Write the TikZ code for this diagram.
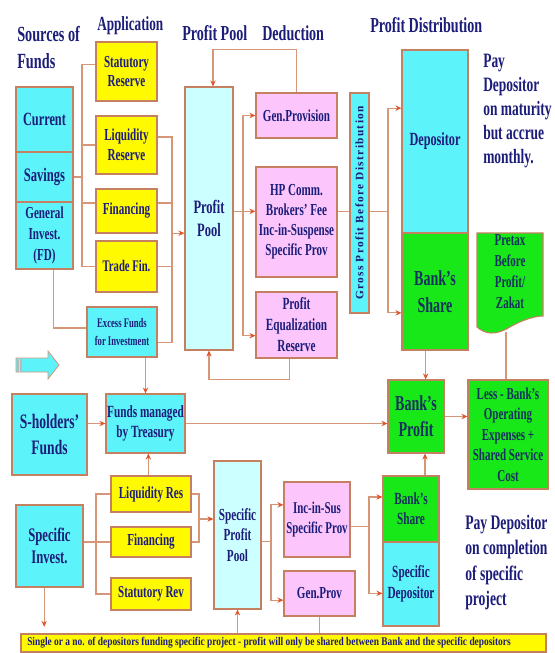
\documentclass[tikz,border=0pt]{standalone}
\usepackage{fontspec}
\setmainfont{Liberation Serif}[FakeStretch=0.66]
\newfontfamily\grossfont{Liberation Serif}[LetterSpace=12]
\newfontfamily\barfont{Liberation Serif}[FakeStretch=0.8]
\usetikzlibrary{arrows.meta,calc}
\definecolor{cy}{RGB}{92,244,250}
\definecolor{lcy}{RGB}{204,255,255}
\definecolor{yl}{RGB}{255,250,0}
\definecolor{pk}{RGB}{252,198,252}
\definecolor{gr}{RGB}{24,232,24}
\definecolor{bd}{RGB}{196,128,96}
\definecolor{ln}{RGB}{214,150,120}
\definecolor{tip}{RGB}{226,84,44}
\definecolor{nv}{RGB}{28,28,122}
\definecolor{gnv}{RGB}{22,48,96}
\begin{document}
\begin{tikzpicture}[x=0.75pt,y=-0.75pt,
 box/.style={draw=bd, line width=0.8pt, inner sep=0pt, align=center, text=nv},
 wh/.style 2 args={minimum width=#1*0.75pt, minimum height=#2*0.75pt},
 fs/.style 2 args={font=\bfseries\fontsize{#1}{#2}\selectfont},
 conn/.style={draw=ln, line width=0.8pt},
 arr/.style={conn, -{Stealth[length=4.5pt,width=4pt,color=tip]}},
 ttl/.style={inner sep=0pt, align=left, text=nv, anchor=north west}]
\useasboundingbox (0,0) rectangle (555,653);
\fill[white] (0,0) rectangle (555,653);

% titles
\node[ttl,fs={16.2}{20}] (t1) at (17,26) {Sources of\\Funds};
\node[ttl,fs={15}{17}] (t2) at (97,16) {Application};
\node[ttl,fs={16}{17}] (t3) at (182,25) {Profit Pool};
\node[ttl,fs={16}{17}] (t4) at (262,25) {Deduction};
\node[ttl,fs={16}{17}] (t5) at (370,17) {Profit Distribution};
\node[ttl,fs={15.3}{18}] (t6) at (483,54) {Pay\\Depositor\\on maturity\\but accrue\\monthly.};
\node[ttl,fs={15.5}{19}] (t7) at (465,515) {Pay Depositor\\on completion\\of specific\\project};

% sources
\node[box,fill=cy,wh={57}{65},fs={14}{16}] (cur) at (44.5,119.5) {Current};
\node[box,fill=cy,wh={57}{50},fs={14.3}{16}] (sav) at (44.5,177) {Savings};
\node[box,fill=cy,wh={57}{67},fs={12.6}{15.5}] (gen) at (44.5,235.5) {General\\Invest.\\(FD)};
% application
\node[box,fill=yl,wh={61}{59},fs={12.6}{14.5}] (stat) at (126.5,71.5) {Statutory\\Reserve};
\node[box,fill=yl,wh={61}{58},fs={12.6}{15}] (liq) at (126.5,145) {Liquidity\\Reserve};
\node[box,fill=yl,wh={61}{44},fs={12.6}{14}] (fin) at (126.5,211) {Financing};
\node[box,fill=yl,wh={61}{51},fs={12.1}{14}] (trade) at (126.5,266.5) {Trade Fin.};
\node[box,fill=cy,wh={70}{50},fs={9.8}{14}] (excess) at (122,332) {Excess Funds\\for Investment};
% pool and deductions
\node[box,fill=lcy,wh={48}{263},fs={14.2}{17.5}] (pool) at (209,218.5) {Profit\\Pool};
\node[box,fill=pk,wh={81}{45},fs={12.6}{14}] (genprov) at (296.5,115.5) {Gen.Provision};
\node[box,fill=pk,wh={81}{110},fs={12.6}{15}] (hp) at (296.5,222) {HP Comm.\\Brokers' Fee\\Inc-in-Suspense\\Specific Prov};
\node[box,fill=pk,wh={81}{66},fs={12.8}{15.7}] (peq) at (296.5,325) {Profit\\Equalization\\Reserve};
\node[box,fill=cy,wh={19}{220}] (gross) at (359.5,203) {};
\node[rotate=90,inner sep=0pt,text=nv,font=\grossfont\bfseries\fontsize{8.5}{9}\selectfont] (grosst) at (gross.center) {Gross Profit Before Distribution};
% distribution
\node[box,fill=cy,wh={66}{183},fs={13.9}{16}] (dep) at (435,141.5) {Depositor};
\node[box,fill=gr,wh={66}{117},fs={16}{20},text=gnv] (bshare) at (435,291.5) {Bank's\\Share};
\draw[draw=bd,fill=gr,line width=0.8pt] (477,233) -- (543,233) -- (543,316) .. controls (535,316) and (522,320) .. (510,327) .. controls (495,336) and (485,334) .. (477,327) -- cycle;
\node[inner sep=0pt,align=center,text=gnv,fs={12.5}{15.7}] (pretax) at (510,272) {Pretax\\Before\\Profit/\\Zakat};
\coordinate (ptb) at (506,332);
\node[box,fill=gr,wh={56}{73},fs={16}{19.5},text=gnv] (bprofit) at (416,416.5) {Bank's\\Profit};
\node[box,fill=gr,wh={80}{109},fs={12.5}{15.3},text=gnv] (less) at (508,434.5) {Less - Bank's\\Operating\\Expenses +\\Shared Service\\Cost};
% lower part
\node[box,fill=cy,wh={75}{81},fs={15.4}{19}] (shold) at (49.5,434.5) {S-holders'\\Funds};
\node[box,fill=cy,wh={79}{59},fs={12.8}{15}] (treas) at (145.5,423.5) {Funds managed\\by Treasury};
\node[box,fill=yl,wh={80}{36},fs={12.6}{14}] (lres) at (151,494) {Liquidity Res};
\node[box,fill=yl,wh={80}{30},fs={12.6}{14}] (lfin) at (151,542) {Financing};
\node[box,fill=yl,wh={80}{32},fs={12.5}{14}] (srev) at (151,594) {Statutory Rev};
\node[box,fill=cy,wh={67}{82},fs={14.4}{16.5}] (sinv) at (49.5,546) {Specific\\Invest.};
\node[box,fill=lcy,wh={47}{148},fs={12.7}{15.4}] (spool) at (237.5,535) {Specific\\Profit\\Pool};
\node[box,fill=pk,wh={66}{75},fs={12.4}{15}] (incsus) at (317,519.5) {Inc-in-Sus\\Specific Prov};
\node[box,fill=pk,wh={71}{45},fs={12.6}{14}] (gprov2) at (319.5,593.5) {Gen.Prov};
\node[box,fill=gr,wh={56}{66},fs={12.8}{15},text=gnv] (bshare2) at (411,509) {Bank's\\Share};
\node[box,fill=cy,wh={56}{84},fs={12.8}{16}] (sdep) at (411,584) {Specific\\Depositor};
\node[box,fill=yl,wh={525}{18}] (bar) at (283.5,643) {};
\node[inner sep=0pt,anchor=west,text=nv,font=\barfont\bfseries\fontsize{8.8}{10}\selectfont] (bartext) at (27,643) {Single or a no. of depositors funding specific project - profit will only be shared between Bank and the specific depositors};

% big arrow
\draw[draw=ln,fill=cy,line width=0.6pt] (16,358) -- (48,358) -- (48,351) -- (59,365) -- (48,379) -- (48,372) -- (16,372) -- cycle;
\fill[gray!55] (16.5,358.5) rectangle (22,371.5);
\draw[gray!30,line width=0.5pt] (19,358.5) -- (19,371.5);

% top-left buses
\coordinate (lb) at (82,0);
\coordinate (statw) at ([yshift=5.6pt]stat.west);
\coordinate (finw) at ([yshift=6pt]fin.west);
\draw[conn] (statw) -- (statw -| lb) -- (lb |- trade.west) -- (trade.west);
\draw[conn] (liq.west) -- (liq.west -| lb);
\draw[conn] (finw) -- (finw -| lb);
\draw[conn] (sav.east) -- (sav.east -| lb);

\coordinate (rb) at (172,0);
\coordinate (liqe) at ([yshift=6pt]liq.east);
\coordinate (fine) at ([yshift=6pt]fin.east);
\coordinate (exe) at ([yshift=-8pt]excess.east);
\draw[conn] (liqe) -- (liqe -| rb) -- (rb |- exe) -- (exe);
\draw[conn] (fine) -- (fine -| rb);
\draw[conn] (trade.east) -- (trade.east -| rb);
\coordinate (poolw) at ([yshift=-11pt]pool.west);
\draw[arr] (poolw -| rb) -- (poolw);

\coordinate (gens) at ([xshift=7pt]gen.south);
\coordinate (exw) at ([yshift=3pt]excess.west);
\draw[conn] (gens) |- (exw);
\draw[arr] (treas.north |- excess.south) -- (treas.north);

% profit pool loops
\coordinate (pooln) at ([xshift=3pt]pool.north);
\draw[arr] (genprov.north) -- ++(0,-43) -| (pooln);
\coordinate (db) at (243,0);
\coordinate (hpw) at ([yshift=8pt]hp.west);
\coordinate (peqw) at ([yshift=-8pt]peq.west);
\draw[conn] (hpw -| pool.east) -- (hpw -| db);
\draw[arr] (hpw -| db) -- (hpw);
\draw[arr] (hpw -| db) |- (genprov.west);
\draw[arr] (hpw -| db) |- (peqw);
\coordinate (peqs) at ([xshift=-5.6pt]peq.south);
\draw[arr] (peqs) -- ++(0,21) -| (pool.south);

% distribution
\coordinate (hpe) at ([yshift=8pt]hp.east);
\coordinate (dbus) at (388,0);
\coordinate (depw) at ([yshift=25pt]dep.west);
\coordinate (bsw) at ([yshift=-16pt]bshare.west);
\draw[conn] (hpe) -- (hpe -| gross.west);
\draw[conn] (hpe -| gross.east) -- (hpe -| dbus);
\draw[arr] (hpe -| dbus) |- (depw);
\draw[arr] (hpe -| dbus) |- (bsw);
\coordinate (bss) at ([xshift=-7pt]bshare.south);
\draw[arr] (bss) -- (bss |- bprofit.north);
\draw[conn] (ptb) -- (ptb |- less.north);
\draw[arr] (bprofit.east) -- (bprofit.east -| less.west);
\draw[arr] (treas.east) -- (treas.east -| bprofit.west);
\draw[arr] (treas.west -| shold.east) -- (treas.west);
\coordinate (lrn) at ([xshift=-2pt]lres.north);
\draw[arr] (lrn) -- (lrn |- treas.south);
\coordinate (bs2n) at ([xshift=10.5pt]bshare2.north);
\draw[arr] (bs2n) -- (bs2n |- bprofit.south);

% lower buses
\coordinate (lb2) at (96,0);
\draw[conn] (lres.west) -- (lres.west -| lb2) -- (lb2 |- srev.west) -- (srev.west);
\draw[conn] (lfin.west -| sinv.east) -- (lfin.west);
\coordinate (rb2) at (199,0);
\draw[conn] (lres.east) -- (lres.east -| rb2) -- (rb2 |- lfin.east) -- (lfin.east);
\coordinate (spw) at ([yshift=12pt]spool.west);
\draw[arr] (spw -| rb2) -- (spw);

\coordinate (mb2) at (271,0);
\coordinate (spe) at ([yshift=-5pt]spool.east);
\coordinate (isw) at ([yshift=11pt]incsus.west);
\coordinate (gpw) at ([yshift=-5pt]gprov2.west);
\draw[conn] (spe) -- (spe -| mb2);
\draw[arr] (spe -| mb2) |- (isw);
\draw[arr] (spe -| mb2) |- (gpw);

\coordinate (rb3) at (369,0);
\coordinate (ise) at ([yshift=-5.5pt]incsus.east);
\coordinate (bs2w) at ([yshift=9pt]bshare2.west);
\coordinate (sdw) at ([yshift=-7pt]sdep.west);
\draw[conn] (ise) -- (ise -| rb3);
\draw[arr] (ise -| rb3) |- (bs2w);
\draw[arr] (ise -| rb3) |- (sdw);

\draw[conn] (gprov2.south) -- (gprov2.south |- bar.north);
\draw[arr] (spool.south |- bar.north) -- (spool.south);
\coordinate (sis) at ([xshift=-4pt]sinv.south);
\draw[arr,shorten >=5pt] (sis) -- (sis |- bar.north);
\end{tikzpicture}
\end{document}
